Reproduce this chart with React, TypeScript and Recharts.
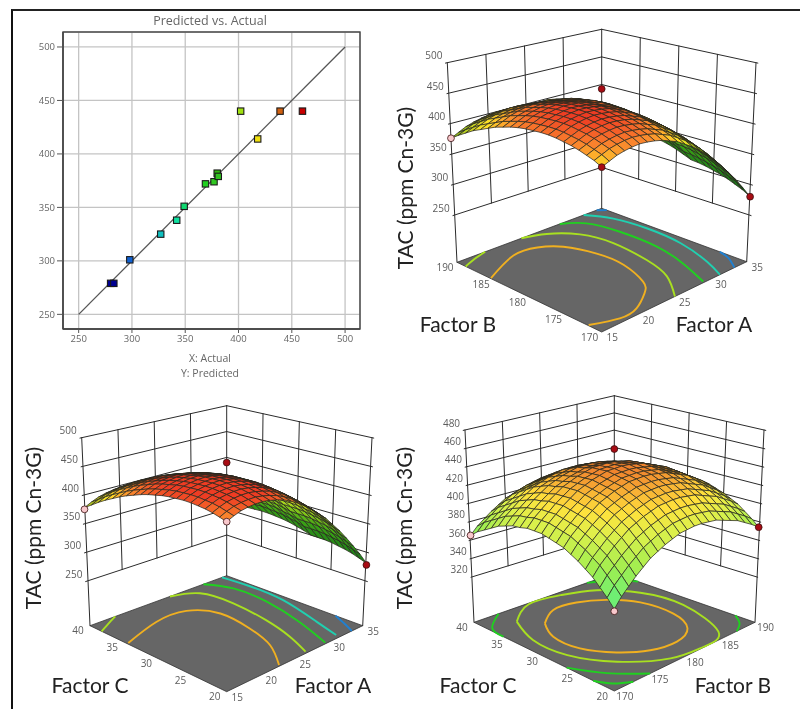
import React from "react";
import { ScatterChart, Scatter, XAxis, YAxis, CartesianGrid } from "recharts";

// Predicted vs. Actual
const actual = [280, 283, 298, 327, 342, 349, 369, 377, 380, 381, 402, 418, 439, 460];
const predicted = [279, 279, 301, 325, 338, 351, 372, 374, 382, 379, 440, 414, 440, 440];
const pointColors = ["#000090", "#000090", "#1060d0", "#10c0c0", "#10e0a0", "#10d870", "#20d020", "#30c820", "#30b810", "#30c020", "#a0e010", "#f0e010", "#d06010", "#c80000"];
const parityTicks = [250, 300, 350, 400, 450, 500];
const parityLine = [250, 500];

const factorA = [15, 20, 25, 30, 35];
const factorB = [170, 175, 180, 185, 190];
const factorC = [20, 25, 30, 35, 40];
const tacTicks = [250, 300, 350, 400, 450, 500];
const tacTicksBC = [320, 340, 360, 380, 400, 420, 440, 460, 480];

const surfaceAB = [
  [412, 418, 422, 426, 429, 431, 433, 434, 434, 433, 432, 430, 427, 423, 419, 413, 407, 401, 393, 385, 376],
  [417, 423, 427, 431, 434, 436, 438, 439, 439, 438, 437, 435, 432, 428, 424, 418, 412, 406, 398, 390, 381],
  [422, 428, 432, 436, 439, 441, 443, 444, 444, 443, 442, 440, 437, 433, 429, 423, 417, 411, 403, 395, 386],
  [425, 431, 435, 439, 442, 444, 446, 447, 447, 446, 445, 443, 440, 436, 432, 426, 420, 414, 406, 398, 389],
  [427, 433, 437, 441, 444, 446, 448, 449, 449, 448, 447, 445, 442, 438, 434, 428, 422, 416, 408, 400, 391],
  [428, 434, 438, 442, 445, 447, 449, 450, 450, 449, 448, 446, 443, 439, 435, 429, 423, 417, 409, 401, 392],
  [427, 433, 437, 441, 444, 446, 448, 449, 449, 448, 447, 445, 442, 438, 434, 428, 422, 416, 408, 400, 391],
  [425, 431, 435, 439, 442, 444, 446, 447, 447, 446, 445, 443, 440, 436, 432, 426, 420, 414, 406, 398, 389],
  [422, 428, 432, 436, 439, 441, 443, 444, 444, 443, 442, 440, 437, 433, 429, 423, 417, 411, 403, 395, 386],
  [417, 423, 427, 431, 434, 436, 438, 439, 439, 438, 438, 436, 434, 430, 427, 421, 415, 410, 402, 395, 386],
  [412, 418, 422, 426, 429, 431, 433, 434, 434, 434, 434, 433, 430, 427, 424, 419, 414, 409, 401, 394, 386],
  [404, 410, 414, 418, 421, 423, 425, 426, 426, 426, 427, 426, 424, 421, 419, 414, 409, 404, 398, 391, 383],
  [396, 402, 406, 410, 413, 415, 417, 418, 418, 419, 419, 419, 418, 415, 413, 409, 404, 400, 394, 387, 380],
  [386, 392, 396, 400, 403, 405, 407, 408, 408, 409, 410, 410, 409, 408, 406, 402, 398, 394, 388, 382, 375],
  [375, 381, 385, 389, 392, 394, 396, 397, 397, 399, 400, 401, 400, 399, 397, 394, 390, 387, 381, 376, 369],
  [362, 368, 372, 376, 379, 381, 383, 384, 384, 386, 388, 389, 389, 388, 387, 384, 381, 377, 372, 367, 361],
  [348, 354, 358, 362, 365, 367, 369, 370, 370, 372, 375, 376, 376, 376, 375, 373, 370, 367, 363, 358, 352],
  [333, 339, 343, 347, 350, 352, 354, 355, 355, 358, 361, 362, 363, 363, 363, 360, 358, 356, 352, 348, 342],
  [317, 323, 327, 331, 334, 336, 338, 339, 339, 342, 345, 348, 349, 349, 349, 347, 346, 344, 340, 336, 331],
  [299, 305, 309, 313, 316, 318, 320, 321, 321, 325, 328, 331, 332, 333, 334, 332, 331, 330, 326, 323, 318],
  [280, 286, 290, 294, 297, 299, 301, 302, 302, 306, 310, 313, 315, 316, 317, 316, 315, 314, 311, 308, 304],
];

const surfaceAC = [
  [418, 422, 426, 429, 431, 433, 434, 434, 434, 433, 431, 429, 426, 422, 418, 413, 407, 401, 394, 386, 378],
  [424, 428, 432, 435, 437, 439, 440, 440, 440, 439, 437, 435, 432, 428, 424, 419, 413, 407, 400, 392, 384],
  [429, 433, 437, 440, 442, 444, 445, 445, 445, 444, 442, 440, 437, 433, 429, 424, 418, 412, 405, 397, 389],
  [432, 436, 440, 443, 445, 447, 448, 448, 448, 447, 445, 443, 440, 436, 432, 427, 421, 415, 408, 400, 392],
  [434, 438, 442, 445, 447, 449, 450, 450, 450, 449, 447, 445, 442, 438, 434, 429, 423, 417, 410, 402, 394],
  [435, 439, 443, 446, 448, 450, 451, 451, 451, 450, 448, 446, 443, 439, 435, 430, 424, 418, 411, 403, 395],
  [434, 438, 442, 445, 447, 449, 450, 450, 450, 449, 447, 445, 442, 438, 434, 429, 423, 417, 410, 402, 394],
  [432, 436, 440, 443, 445, 447, 448, 448, 448, 447, 445, 443, 440, 436, 432, 427, 421, 415, 408, 400, 392],
  [429, 433, 437, 440, 442, 444, 445, 445, 445, 444, 442, 440, 437, 433, 429, 424, 418, 412, 405, 397, 389],
  [424, 428, 432, 435, 437, 439, 440, 440, 440, 439, 438, 436, 434, 430, 427, 422, 416, 411, 404, 397, 389],
  [418, 422, 426, 429, 431, 433, 434, 434, 434, 434, 433, 432, 429, 426, 423, 419, 414, 409, 402, 395, 388],
  [410, 414, 418, 421, 423, 425, 426, 426, 426, 426, 426, 425, 423, 420, 418, 414, 409, 404, 399, 392, 385],
  [401, 405, 409, 412, 414, 416, 417, 417, 417, 418, 417, 417, 416, 413, 411, 408, 403, 399, 394, 387, 381],
  [391, 395, 399, 402, 404, 406, 407, 407, 407, 408, 408, 408, 407, 406, 404, 401, 397, 393, 388, 382, 376],
  [380, 384, 388, 391, 393, 395, 396, 396, 396, 398, 398, 399, 398, 397, 395, 393, 389, 386, 381, 376, 370],
  [366, 370, 374, 377, 379, 381, 382, 382, 382, 384, 385, 386, 386, 385, 384, 382, 379, 375, 371, 366, 361],
  [352, 356, 360, 363, 365, 367, 368, 368, 368, 370, 372, 373, 373, 373, 372, 371, 368, 365, 362, 357, 352],
  [336, 340, 344, 347, 349, 351, 352, 352, 352, 355, 357, 358, 359, 359, 359, 357, 355, 353, 350, 346, 341],
  [319, 323, 327, 330, 332, 334, 335, 335, 335, 338, 340, 343, 344, 344, 344, 343, 342, 340, 337, 333, 329],
  [301, 305, 309, 312, 314, 316, 317, 317, 317, 321, 323, 326, 327, 328, 329, 328, 327, 326, 323, 320, 316],
  [281, 285, 289, 292, 294, 296, 297, 297, 297, 301, 304, 307, 309, 310, 311, 311, 310, 309, 307, 304, 301],
];

const surfaceBC = [
  [350, 358, 365, 372, 377, 382, 386, 390, 392, 394, 396, 396, 396, 394, 393, 390, 387, 382, 377, 372, 365],
  [359, 367, 374, 381, 386, 391, 395, 399, 401, 403, 405, 405, 405, 403, 402, 399, 396, 391, 386, 381, 374],
  [366, 374, 381, 388, 393, 398, 402, 406, 408, 410, 412, 412, 412, 410, 409, 406, 403, 398, 393, 388, 381],
  [373, 381, 388, 395, 400, 405, 409, 413, 415, 417, 419, 419, 419, 417, 416, 413, 410, 405, 400, 395, 388],
  [379, 387, 394, 401, 406, 411, 415, 419, 421, 423, 425, 425, 425, 423, 422, 419, 416, 411, 406, 401, 394],
  [385, 393, 400, 407, 412, 417, 421, 425, 427, 429, 431, 431, 431, 429, 428, 425, 422, 417, 412, 407, 400],
  [389, 397, 404, 411, 416, 421, 425, 429, 431, 433, 435, 435, 435, 433, 432, 429, 426, 421, 416, 411, 404],
  [393, 401, 408, 415, 420, 425, 429, 433, 435, 437, 439, 439, 439, 437, 436, 433, 430, 425, 420, 415, 408],
  [396, 404, 411, 418, 423, 428, 432, 436, 438, 440, 442, 442, 442, 440, 439, 436, 433, 428, 423, 418, 411],
  [399, 407, 414, 421, 426, 431, 435, 439, 441, 443, 445, 445, 445, 443, 442, 439, 436, 431, 426, 421, 414],
  [400, 408, 415, 422, 427, 432, 436, 440, 442, 444, 446, 446, 446, 444, 443, 440, 437, 432, 427, 422, 415],
  [401, 409, 416, 423, 428, 433, 437, 441, 443, 445, 447, 447, 447, 445, 444, 441, 438, 433, 428, 423, 416],
  [401, 409, 416, 423, 428, 433, 437, 441, 443, 445, 447, 447, 447, 445, 444, 441, 438, 433, 428, 423, 416],
  [400, 408, 415, 422, 427, 432, 436, 440, 442, 444, 446, 446, 446, 444, 443, 440, 437, 432, 427, 422, 415],
  [399, 407, 414, 421, 426, 431, 435, 439, 441, 443, 445, 445, 445, 443, 442, 439, 436, 431, 426, 421, 414],
  [396, 404, 411, 418, 423, 428, 432, 436, 438, 440, 442, 442, 442, 440, 439, 436, 433, 428, 423, 418, 411],
  [393, 401, 408, 415, 420, 425, 429, 433, 435, 437, 439, 439, 439, 437, 436, 433, 430, 425, 420, 415, 408],
  [390, 398, 405, 412, 417, 422, 426, 430, 432, 434, 436, 436, 436, 434, 433, 430, 427, 422, 417, 412, 405],
  [385, 393, 400, 407, 412, 417, 421, 425, 427, 429, 431, 431, 431, 429, 428, 425, 422, 417, 412, 407, 400],
  [380, 388, 395, 402, 407, 412, 416, 420, 422, 424, 426, 426, 426, 424, 423, 420, 417, 412, 407, 402, 395],
  [374, 382, 389, 396, 401, 406, 410, 414, 416, 418, 420, 420, 420, 418, 417, 414, 411, 406, 401, 396, 389],
];

type Contour = { color: string; pts: [number, number][] };
const BLUE = "#2080d0";
const CYAN = "#20d0b0";
const GREEN = "#20d020";
const LIME = "#a8e020";
const ORANGE = "#f0b020";

// contour lines on the floor, in factor units
const contoursAB: Contour[] = [
  { color: BLUE, pts: [[34.3, 190], [35, 189.3]] },
  { color: BLUE, pts: [[35, 173.7], [34.5, 172], [33.3, 170]] },
  { color: CYAN, pts: [[32.5, 190], [33.9, 187.3], [34.4, 183.1], [34, 178.1], [32.6, 173.1], [31.3, 170]] },
  { color: GREEN, pts: [[29.2, 190], [31.2, 188.3], [32, 184.5], [31.9, 179.3], [30.8, 174.6], [29.2, 170.2]] },
  { color: LIME, pts: [[23.9, 190], [26.5, 189.1], [28.8, 186.8], [29.6, 183], [29, 177.8], [27.7, 173.7], [25.1, 170]] },
  { color: LIME, pts: [[18.9, 190], [17, 189.5], [15, 188.8]] },
  { color: ORANGE, pts: [[15.1, 185.4], [20.4, 187.6], [23.5, 187.4], [25.5, 185.8], [26.7, 182.4], [26.7, 178.7], [25.3, 174.6], [23.6, 172.7], [20.8, 171], [18.2, 170.7], [15.1, 171.9]] },
];
const contoursAC: Contour[] = [
  { color: BLUE, pts: [[35, 24], [34.2, 21.9], [33.4, 20]] },
  { color: CYAN, pts: [[34.3, 40], [34.6, 36.2], [34.3, 31], [32.7, 24.5], [31.7, 20.6]] },
  { color: GREEN, pts: [[31.6, 40], [33, 37], [32.9, 32], [31.5, 25.8], [29.7, 20.2]] },
  { color: LIME, pts: [[26.7, 40], [29.6, 38.5], [30.2, 34.2], [29.5, 28.7], [28.3, 24], [26.9, 20.3]] },
  { color: LIME, pts: [[18.7, 40], [16.9, 39.2], [15, 38.3]] },
  { color: ORANGE, pts: [[15.2, 34.6], [21, 36.3], [25.3, 36.2], [27.4, 33.3], [26.9, 28.5], [25.5, 24.1], [22.9, 20.2]] },
];
const contoursBC: Contour[] = [
  { color: GREEN, pts: [[173.5, 40], [170.5, 37.9], [170, 35.8]] },
  { color: GREEN, pts: [[190, 22.8], [188.9, 21.1], [187.4, 20]] },
  { color: GREEN, pts: [[170, 26.8], [172.1, 23.2], [175.1, 20]] },
  { color: GREEN, pts: [[186.1, 40], [188.8, 38.4], [190, 36.6]] },
  { color: GREEN, pts: [[170, 23], [171, 21.2], [172.7, 20]] },
  { color: LIME, pts: [[173.6, 37.5], [177.6, 39.8], [181.8, 39.4], [185.4, 37.9], [188, 34.3], [188.6, 28.8], [186.2, 21.4], [182.8, 20.1], [178.8, 20.8], [174.6, 24.2], [172, 28.7], [171.8, 33.4], [173.6, 37.5]] },
  { color: ORANGE, pts: [[175.5, 35.4], [178.5, 37.2], [181.6, 37], [184.3, 35.4], [186.2, 32.5], [186.4, 28], [184.8, 24.4], [181.9, 23], [178.7, 23.6], [176, 25.7], [174, 28.9], [173.9, 32.6], [175.5, 35.4]] },
];

// design points: [first factor, second factor, TAC, colour]
const pointsAB: [number, number, number, string][] = [
  [35, 190, 392, "#a80c14"], [15, 170, 412, "#a80c14"], [35, 170, 280, "#a80c14"], [15, 190, 376, "#f8c8cc"],
];
const pointsAC: [number, number, number, string][] = [
  [35, 40, 390, "#a80c14"], [15, 20, 418, "#f8c8cc"], [35, 20, 278, "#a80c14"], [15, 40, 375, "#f8c8cc"],
];
const pointsBC: [number, number, number, string][] = [
  [190, 40, 418, "#a80c14"], [170, 20, 348, "#f8c8cc"], [190, 20, 374, "#a80c14"], [170, 40, 365, "#f8c8cc"],
];

const W = 800;
const H = 709;
type Pt = [number, number];
// screen anchors of the box: floor, lowest z level and highest z level at each corner
type Corner = { floor: Pt; base: Pt; top: Pt };
type Box = { F: Corner; R: Corner; L: Corner; B: Corner };

const mix = (a: Pt, b: Pt, t: number): Pt => [a[0] + (b[0] - a[0]) * t, a[1] + (b[1] - a[1]) * t];
const bilinear = (box: Box, key: keyof Corner, u: number, v: number): Pt =>
  mix(mix(box.F[key], box.R[key], u), mix(box.L[key], box.B[key], u), v);

type Stop = [number, number[]];
const rampAcid: Stop[] = [
  [260, [0, 90, 30]],
  [340, [60, 165, 20]],
  [385, [170, 215, 30]],
  [412, [255, 225, 40]],
  [430, [250, 135, 45]],
  [448, [238, 60, 35]],
];
const rampPale: Stop[] = [
  [320, [40, 225, 190]],
  [350, [90, 240, 130]],
  [378, [160, 238, 80]],
  [402, [222, 240, 75]],
  [418, [255, 225, 60]],
  [445, [240, 130, 45]],
];
const rampColor = (stops: Stop[], z: number, shade: number) => {
  let k = 0;
  while (k < stops.length - 2 && z > stops[k + 1][0]) k++;
  const [z0, c0] = stops[k];
  const [z1, c1] = stops[k + 1];
  const t = Math.max(0, Math.min(1, (z - z0) / (z1 - z0)));
  const c = c0.map((v, i) => Math.round((v + (c1[i] - v) * t) * shade));
  return `rgb(${c[0]},${c[1]},${c[2]})`;
};

type PanelConfig = {
  box: Box;
  zTicks: number[];
  uTicks: number[];
  vTicks: number[];
  surface: number[][];
  contours: Contour[];
  points: [number, number, number, string][];
  ramp: Stop[];
  colorShift: number;
  backLift: number; // px the surface's back corner sits off the wall anchors
  uTitle: { text: string; x: number; y: number };
  vTitle: { text: string; x: number; y: number };
  zTitle: { x: number; y: number };
};

const panels: PanelConfig[] = [
  {
    box: {
      F: { floor: [601.7, 332], base: [601.7, 277.3], top: [601.7, 107.3] },
      R: { floor: [746.7, 261.7], base: [749.3, 215], top: [756, 62.7] },
      L: { floor: [457, 262.3], base: [454.7, 215], top: [447.3, 62.7] },
      B: { floor: [601.7, 208.3], base: [601.7, 167.3], top: [601.7, 29.3] },
    },
    zTicks: tacTicks, uTicks: factorA, vTicks: factorB, surface: surfaceAB,
    contours: contoursAB, points: pointsAB, ramp: rampAcid, colorShift: 0, backLift: -14,
    uTitle: { text: "Factor A", x: 714, y: 327 },
    vTitle: { text: "Factor B", x: 458, y: 327 },
    zTitle: { x: 408, y: 188 },
  },
  {
    box: {
      F: { floor: [226.7, 691.7], base: [226.7, 633.7], top: [226.7, 467] },
      R: { floor: [362.7, 625.7], base: [365.7, 581], top: [372, 437.7] },
      L: { floor: [90, 625.7], base: [87.3, 581], top: [81.7, 437.7] },
      B: { floor: [226.7, 575.7], base: [226.7, 535], top: [226.7, 405.7] },
    },
    zTicks: tacTicks, uTicks: factorA, vTicks: factorC, surface: surfaceAC,
    contours: contoursAC, points: pointsAC, ramp: rampAcid, colorShift: 8, backLift: -4,
    uTitle: { text: "Factor A", x: 333, y: 688 },
    vTitle: { text: "Factor C", x: 90, y: 688 },
    zTitle: { x: 36, y: 528 },
  },
  {
    box: {
      F: { floor: [614.3, 691], base: [614.3, 641], top: [614.3, 471] },
      R: { floor: [755, 622.3], base: [756, 576.7], top: [764, 430] },
      L: { floor: [474, 622.3], base: [472.7, 576.7], top: [465, 430] },
      B: { floor: [614.3, 573.3], base: [614.3, 533.3], top: [614.3, 395.7] },
    },
    zTicks: tacTicksBC, uTicks: factorB, vTicks: factorC, surface: surfaceBC,
    contours: contoursBC, points: pointsBC, ramp: rampPale, colorShift: 0, backLift: 20,
    uTitle: { text: "Factor B", x: 733, y: 688 },
    vTitle: { text: "Factor C", x: 478, y: 688 },
    zTitle: { x: 407, y: 528 },
  },
];

type Seg = { x: number; y: number; x2: number; y2: number; color: string; width: number };
type Poly = { x: number; y: number; pts: Pt[]; fill: string; stroke: string; width: number };

const wallSegments = (p: PanelConfig): Seg[] => {
  const { box, zTicks, uTicks, vTicks } = p;
  const zMin = zTicks[0];
  const zMax = zTicks[zTicks.length - 1];
  const at = (u: number, v: number, z: number): Pt =>
    mix(bilinear(box, "base", u, v), bilinear(box, "top", u, v), (z - zMin) / (zMax - zMin));
  const segs: Seg[] = [];
  const add = (a: Pt, b: Pt) => segs.push({ x: a[0], y: a[1], x2: b[0], y2: b[1], color: "#2b2b2b", width: 1 });
  zTicks.forEach((z) => {
    add(at(-0.012, 1, z), at(1, 1, z));
    add(at(1, 1, z), at(1, -0.012, z));
  });
  for (let k = 1; k < uTicks.length - 1; k++) add(at(k / 4, 1, zMin), at(k / 4, 1, zMax));
  for (let k = 1; k < vTicks.length - 1; k++) add(at(1, k / 4, zMin), at(1, k / 4, zMax));
  ([[0, 1], [1, 1], [1, 0]] as Pt[]).forEach(([u, v]) => add(bilinear(box, "floor", u, v), at(u, v, zMax)));
  return segs;
};

const contourPoints = (p: PanelConfig, c: Contour) =>
  c.pts.map(([a, b]) => {
    const u = (a - p.uTicks[0]) / (p.uTicks[4] - p.uTicks[0]);
    const v = (b - p.vTicks[0]) / (p.vTicks[4] - p.vTicks[0]);
    const q = bilinear(p.box, "floor", u, v);
    return { x: q[0], y: q[1] };
  });

const polyArea = (q: Pt[]) =>
  Math.abs(q.reduce((s, a, k) => {
    const b = q[(k + 1) % q.length];
    return s + a[0] * b[1] - b[0] * a[1];
  }, 0)) / 2;

const surfaceCells = (p: PanelConfig): Poly[] => {
  const { box, surface, zTicks } = p;
  const zMin = zTicks[0];
  const zMax = zTicks[zTicks.length - 1];
  const n = surface.length - 1;
  const at = (i: number, j: number): Pt => {
    const q = mix(bilinear(box, "base", i / n, j / n), bilinear(box, "top", i / n, j / n), (surface[i][j] - zMin) / (zMax - zMin));
    return [q[0], q[1] + p.backLift * (i / n) * (j / n)];
  };
  const floorCell = polyArea([box.F.floor, box.R.floor, box.B.floor, box.L.floor]) / (n * n);
  const cells: Poly[] = [];
  // back corner first, front corner last
  for (let i = n - 1; i >= 0; i--) {
    for (let j = n - 1; j >= 0; j--) {
      const q: Pt[] = [at(i, j), at(i + 1, j), at(i + 1, j + 1), at(i, j + 1)];
      const z = (surface[i][j] + surface[i + 1][j] + surface[i + 1][j + 1] + surface[i][j + 1]) / 4;
      const shade = Math.min(1, 0.4 + (polyArea(q) / floorCell) * 1.0);
      cells.push({
        x: q[0][0], y: q[0][1], pts: q,
        fill: rampColor(p.ramp, z + p.colorShift, shade),
        stroke: "#2a2a20", width: 0.75,
      });
    }
  }
  return cells;
};

const floorPoly = (p: PanelConfig): Poly[] => {
  const { F, R, B, L } = p.box;
  return [{ x: F.floor[0], y: F.floor[1], pts: [F.floor, R.floor, B.floor, L.floor], fill: "#666666", stroke: "#333", width: 0.8 }];
};

const SegShape = (props: any) => {
  const s = props.payload as Seg;
  const dx = props.cx - s.x;
  const dy = props.cy - s.y;
  return <line x1={props.cx} y1={props.cy} x2={s.x2 + dx} y2={s.y2 + dy} stroke={s.color} strokeWidth={s.width} strokeLinecap="round" />;
};

const PolyShape = (props: any) => {
  const c = props.payload as Poly;
  const dx = props.cx - c.x;
  const dy = props.cy - c.y;
  return <polygon points={c.pts.map((q) => `${q[0] + dx},${q[1] + dy}`).join(" ")} fill={c.fill} stroke={c.stroke} strokeWidth={c.width} strokeLinejoin="round" />;
};

const DotShape = (props: any) => (
  <circle cx={props.cx} cy={props.cy} r={3.4} fill={props.payload.color} stroke="#3a1010" strokeWidth={0.8} />
);

const SquareShape = (props: any) => (
  <rect x={props.cx - 3.2} y={props.cy - 3.2} width={6.4} height={6.4} fill={props.payload.color} stroke="#1a1a1a" strokeWidth={1.1} />
);

const NoShape = () => <g />;

const tickFont = { fontFamily: "'Open Sans'", fontSize: 10, fill: "#5c5c5c" };
const titleFont = { fontFamily: "Lato", fontSize: 21, fill: "#222" };

const panelTexts = (p: PanelConfig, key: number) => {
  const { box, zTicks, uTicks, vTicks } = p;
  const zMin = zTicks[0];
  const zMax = zTicks[zTicks.length - 1];
  const out: React.ReactNode[] = [];
  zTicks.forEach((z) => {
    const a = mix(box.L.base, box.L.top, (z - zMin) / (zMax - zMin));
    out.push(<text key={`z${key}${z}`} x={a[0] - 13.5} y={a[1] - 6} textAnchor="middle" dominantBaseline="middle" {...tickFont}>{z}</text>);
  });
  uTicks.forEach((t, k) => {
    const a = bilinear(box, "floor", k / 4, 0);
    out.push(<text key={`u${key}${t}`} x={a[0] + 10.5} y={a[1] + 6.5} textAnchor="middle" dominantBaseline="middle" {...tickFont}>{t}</text>);
  });
  vTicks.forEach((t, k) => {
    const a = bilinear(box, "floor", 0, k / 4);
    out.push(<text key={`v${key}${t}`} x={a[0] - 12} y={a[1] + 6} textAnchor="middle" dominantBaseline="middle" {...tickFont}>{t}</text>);
  });
  [p.uTitle, p.vTitle].forEach((t) =>
    out.push(<text key={`t${key}${t.text}`} x={t.x} y={t.y} textAnchor="middle" dominantBaseline="middle" {...titleFont}>{t.text}</text>)
  );
  out.push(
    <text key={`zt${key}`} x={p.zTitle.x} y={p.zTitle.y} textAnchor="middle" dominantBaseline="middle" transform={`rotate(-90 ${p.zTitle.x} ${p.zTitle.y})`} {...titleFont}>
      TAC (ppm Cn-3G)
    </text>
  );
  return out;
};

const pointData = (p: PanelConfig) => {
  const zMin = p.zTicks[0];
  const zMax = p.zTicks[p.zTicks.length - 1];
  const u0 = p.uTicks[0], u1 = p.uTicks[4], v0 = p.vTicks[0], v1 = p.vTicks[4];
  return p.points.map(([a, b, z, color]) => {
    const u = (a - u0) / (u1 - u0);
    const v = (b - v0) / (v1 - v0);
    const q = mix(bilinear(p.box, "base", u, v), bilinear(p.box, "top", u, v), (z - zMin) / (zMax - zMin));
    return { x: q[0], y: q[1], color };
  });
};

const parityPoints = actual.map((x, k) => ({ x, y: predicted[k], color: pointColors[k] }));
const parityData = parityLine.map((v) => ({ x: v, y: v }));

const PredictedVsActual = () => (
  <div style={{ position: "absolute", left: 0, top: 0 }}>
    <ScatterChart width={380} height={385} margin={{ top: 32, right: 20, left: 23, bottom: 30 }}>
      <CartesianGrid stroke="#c4c4c4" strokeWidth={1.3} />
      <XAxis
        type="number" dataKey="x" domain={[235.3, 514]} ticks={parityTicks} allowDataOverflow height={26}
        tick={{ fontFamily: "'Open Sans'", fontSize: 9.5, fill: "#666" }} tickLine={{ stroke: "#555" }} axisLine={{ stroke: "#444", strokeWidth: 1.4 }} tickSize={4}
      />
      <YAxis
        type="number" dataKey="y" domain={[236.3, 514]} ticks={parityTicks} allowDataOverflow width={40}
        tick={{ fontFamily: "'Open Sans'", fontSize: 9.5, fill: "#666" }} tickLine={{ stroke: "#555" }} axisLine={{ stroke: "#444", strokeWidth: 1.4 }} tickSize={6}
      />
      <Scatter data={parityData} line={{ stroke: "#555", strokeWidth: 1.3 }} shape={NoShape} isAnimationActive={false} />
      <Scatter data={parityPoints} shape={SquareShape} isAnimationActive={false} />
      <rect x={63} y={32} width={297} height={297} fill="none" stroke="#444" strokeWidth={1.4} />
      <text x={210} y={22} textAnchor="middle" dominantBaseline="middle" fontFamily="'Open Sans'" fontSize={12.5} fill="#666">Predicted vs. Actual</text>
      <text x={210} y={359.5} textAnchor="middle" dominantBaseline="middle" fontFamily="'Open Sans'" fontSize={10.5} fill="#666">X: Actual</text>
      <text x={210} y={374} textAnchor="middle" dominantBaseline="middle" fontFamily="'Open Sans'" fontSize={10.5} fill="#666">Y: Predicted</text>
    </ScatterChart>
  </div>
);

const Surfaces = () => (
  <div style={{ position: "absolute", left: 0, top: 0 }}>
    <ScatterChart width={W} height={H} margin={{ top: 0, right: 0, left: 0, bottom: 0 }}>
      <XAxis type="number" dataKey="x" domain={[0, W]} hide allowDataOverflow />
      <YAxis type="number" dataKey="y" domain={[0, H]} reversed hide allowDataOverflow />
      {panels.map((p, k) => <Scatter key={`floor${k}`} data={floorPoly(p)} shape={PolyShape} isAnimationActive={false} />)}
      {panels.map((p, k) => <Scatter key={`wall${k}`} data={wallSegments(p)} shape={SegShape} isAnimationActive={false} />)}
      {panels.flatMap((p, k) =>
        p.contours.map((c, m) => (
          <Scatter
            key={`cont${k}-${m}`}
            data={contourPoints(p, c)}
            line={{ stroke: c.color, strokeWidth: 1.9 }}
            lineJointType="natural"
            shape={NoShape}
            isAnimationActive={false}
          />
        ))
      )}
      {panels.map((p, k) => <Scatter key={`surf${k}`} data={surfaceCells(p)} shape={PolyShape} isAnimationActive={false} />)}
      {panels.map((p, k) => <Scatter key={`pts${k}`} data={pointData(p)} shape={DotShape} isAnimationActive={false} />)}
      {panels.map((p, k) => panelTexts(p, k))}
    </ScatterChart>
  </div>
);

export default function App() {
  return (
    <div style={{ position: "absolute", left: 0, top: 0, width: W, height: H, background: "#fff", overflow: "hidden", filter: "blur(0.45px)" }}>
      <div style={{ position: "absolute", left: 11, top: 9, width: W, height: H, borderLeft: "2px solid #111", borderTop: "2px solid #222" }} />
      <Surfaces />
      <PredictedVsActual />
    </div>
  );
}
